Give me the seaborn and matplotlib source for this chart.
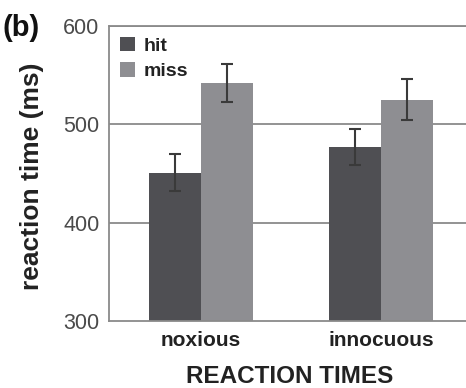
import numpy as np
import pandas as pd
import matplotlib
matplotlib.use("Agg")
import matplotlib.pyplot as plt
import seaborn as sns

categories = ["noxious", "innocuous"]
conditions = ["hit", "miss"]
hit_means = [451, 477]
miss_means = [542, 525]
hit_err = [19, 18]
miss_err = [19, 21]
yticks = [300, 400, 500, 600]

sns.set_theme(style="white")
plt.rcParams["font.family"] = ["Liberation Sans", "DejaVu Sans"]

df = pd.DataFrame({
    "stimulus": categories * 2,
    "condition": ["hit"] * 2 + ["miss"] * 2,
    "rt": hit_means + miss_means,
    "err": hit_err + miss_err,
})

fig = plt.figure(figsize=(4.66, 3.88), dpi=100)
ax = fig.add_axes([109 / 466, 1 - 321 / 388, 1 - 109 / 466, (321 - 26) / 388])

grid_c = "#8a8a8a"
for yv in yticks[1:]:
    ax.axhline(yv, color=grid_c, lw=1.3, zorder=0)

palette = {"hit": "#4f4f53", "miss": "#8e8e92"}
sns.barplot(data=df, x="stimulus", y="rt", hue="condition", order=categories,
            hue_order=conditions, palette=palette, width=0.578, errorbar=None,
            saturation=1, ax=ax, zorder=2, linewidth=0)

# error bars from bar geometry
patches = [p for p in ax.patches if p.get_height() > 0]
for p in patches:
    xc = p.get_x() + p.get_width() / 2
    h = p.get_y() + p.get_height()
    row = df[np.isclose(df["rt"], h)]
    e = float(row["err"].iloc[0])
    ax.errorbar(xc, h, yerr=e, fmt="none", ecolor="#3a3a3a", elinewidth=1.5,
                capsize=4, capthick=1.5, zorder=3)

ax.set_ylim(300, 600)
ax.set_xlim(-0.511, 1.472)
ax.set_yticks(yticks)
ax.set_yticklabels([str(v) for v in yticks])
ax.tick_params(axis="y", length=0, pad=7, labelsize=15.5, labelcolor="#4a4a4a")
ax.tick_params(axis="x", length=0, pad=7, labelsize=15)
for lab in ax.get_xticklabels():
    lab.set_fontweight("bold")
    lab.set_color("#222222")

for s in ["top", "right"]:
    ax.spines[s].set_visible(False)
ax.spines["left"].set_color(grid_c)
ax.spines["left"].set_linewidth(1.3)
ax.spines["bottom"].set_color(grid_c)
ax.spines["bottom"].set_linewidth(1.3)
ax.axhline(600, color=grid_c, lw=1.3, zorder=0, clip_on=False)

ax.set_xlabel("")
ax.set_ylabel("")

leg = ax.legend(loc="upper left", frameon=False, fontsize=14, handlelength=0.75,
                handleheight=0.75, handletextpad=0.45, labelspacing=0.4,
                borderaxespad=0.0, bbox_to_anchor=(0.01, 0.99))
for t in leg.get_texts():
    t.set_fontweight("bold")
    t.set_color("#222222")

fig.text(290 / 466, 1 - 383 / 388, "REACTION TIMES", ha="center", va="baseline",
         fontsize=17.5, fontweight="bold", color="#222222")
fig.text(32 / 466, 1 - 176 / 388, "reaction time (ms)", ha="center", va="center",
         rotation=90, fontsize=19, fontweight="bold", color="#222222")
fig.text(2 / 466, 1 - 36 / 388, "(b)", ha="left", va="baseline",
         fontsize=21, fontweight="bold", color="#111111")

fig.savefig("out.png", dpi=100)
